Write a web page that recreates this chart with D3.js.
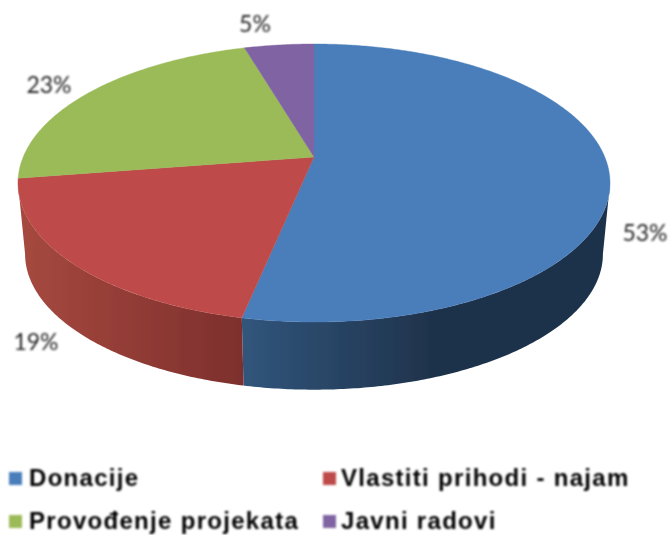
<!DOCTYPE html>
<html>
  <head>
    <title>Prihodi</title>
    <meta charset="utf-8" />
    <script src="https://cdnjs.cloudflare.com/ajax/libs/d3/7.6.1/d3.min.js"></script>
    <style>
      body {
        margin: 0;
        background: #fff;
      }
      svg {
        display: block;
      }
    </style>
  </head>
  <body>
    <svg width="670" height="535"></svg>
  </body>

  <script>
    const categories = ["Donacije", "Vlastiti prihodi - najam", "Provođenje projekata", "Javni radovi"];
    const values = [53.25, 19.3, 22.9, 4.55];
    const topColors = ["#4a7ebb", "#be4b48", "#9bbb59", "#8064a2"];
    const wallStops = [
      ["#31557c", "#1f334c"],
      ["#a6493f", "#7d2f2d"],
      ["#9bbb59", "#9bbb59"],
      ["#8064a2", "#8064a2"],
    ];

    const svg = d3.select("svg");
    const total = d3.sum(values);

    // tilted disc: a circle seen in perspective, so the apex sits above the ellipse centre
    const cx = 314,
      apexY = 157,
      k = 0.187,
      c = 290.8,
      a = -104.8;
    function topPoint(t) {
      const w = 1 + k * Math.cos(t);
      return [cx + (c * Math.sin(t)) / w, (a * Math.cos(t) + apexY) / w];
    }
    // lower rim is a bit smaller and further down
    function bottomPoint(t) {
      const p = topPoint(t);
      return [cx + (p[0] - cx) * 0.976, 254 + (p[1] - 183) * 0.976];
    }

    const pie = d3.pie().sort(null);
    const slices = pie(values);
    const line = d3.line();

    function arcAngles(start, end) {
      const n = Math.max(2, Math.ceil((end - start) / 0.01));
      return d3.range(n + 1).map((i) => start + ((end - start) * i) / n);
    }

    const defs = svg.append("defs");
    function blur(id, dev) {
      defs
        .append("filter")
        .attr("id", id)
        .attr("x", "-5%")
        .attr("y", "-5%")
        .attr("width", "110%")
        .attr("height", "110%")
        .append("feGaussianBlur")
        .attr("stdDeviation", dev);
    }
    blur("soft", 0.7);
    blur("softer", 0.8);

    const gradX = [
      [243, 430],
      [20, 243],
    ];
    wallStops.slice(0, 2).forEach((s, i) => {
      const g = defs
        .append("linearGradient")
        .attr("id", "wall" + i)
        .attr("gradientUnits", "userSpaceOnUse")
        .attr("x1", gradX[i][0])
        .attr("x2", gradX[i][1])
        .attr("y1", 0)
        .attr("y2", 0);
      g.append("stop").attr("offset", 0).attr("stop-color", s[0]);
      g.append("stop").attr("offset", 1).attr("stop-color", s[1]);
    });

    const chart = svg.append("g").attr("filter", "url(#soft)");
    const texts = svg.append("g").attr("filter", "url(#softer)");

    // side walls first, only the front of the disc shows them, between the rim's widest points
    const rimAngle = Math.acos(-k);
    slices.forEach((d, i) => {
      const start = Math.max(d.startAngle, rimAngle);
      const end = Math.min(d.endAngle, 2 * Math.PI - rimAngle);
      if (end <= start) return;
      const angles = arcAngles(start, end);
      const pts = angles.map(topPoint).concat(angles.slice().reverse().map(bottomPoint));
      chart
        .append("path")
        .attr("d", line(pts) + "Z")
        .attr("fill", "url(#wall" + i + ")");
    });

    // top face
    slices.forEach((d, i) => {
      const pts = [[cx, apexY]].concat(arcAngles(d.startAngle, d.endAngle).map(topPoint));
      chart
        .append("path")
        .attr("d", line(pts) + "Z")
        .attr("fill", topColors[i])
        .attr("stroke", topColors[i])
        .attr("stroke-width", 0.4);
    });

    // percent labels
    const labelPos = [
      [645, 241],
      [36, 350],
      [49, 93],
      [255, 32],
    ];
    texts
      .selectAll("text.pct")
      .data(values)
      .enter()
      .append("text")
      .attr("class", "pct")
      .attr("x", (d, i) => labelPos[i][0])
      .attr("y", (d, i) => labelPos[i][1])
      .attr("text-anchor", "middle")
      .style("font-family", "Lato")
      .style("font-size", "23px")
      .style("fill", "#262626")
      .text((d) => Math.round((d / total) * 100) + "%");

    // legend, the lower row sits just high enough to keep its descenders on the page
    const legendX = [9, 323];
    const legendY = [478, 521];
    const legend = texts
      .selectAll("g.legend")
      .data(categories)
      .enter()
      .append("g")
      .attr("class", "legend")
      .attr("transform", (d, i) => `translate(${legendX[i % 2]},${legendY[Math.floor(i / 2)]})`);
    legend
      .append("rect")
      .attr("x", 0)
      .attr("y", -6)
      .attr("width", 13)
      .attr("height", 13)
      .attr("fill", (d, i) => topColors[i]);
    legend
      .append("text")
      .attr("x", (d, i) => (i % 2 ? 18 : 20))
      .attr("y", 8)
      .style("font-family", "Liberation Sans")
      .style("font-weight", "bold")
      .style("font-size", "24px")
      .style("letter-spacing", "1.3px")
      .style("fill", "#000")
      .text((d) => d);
  </script>
</html>
